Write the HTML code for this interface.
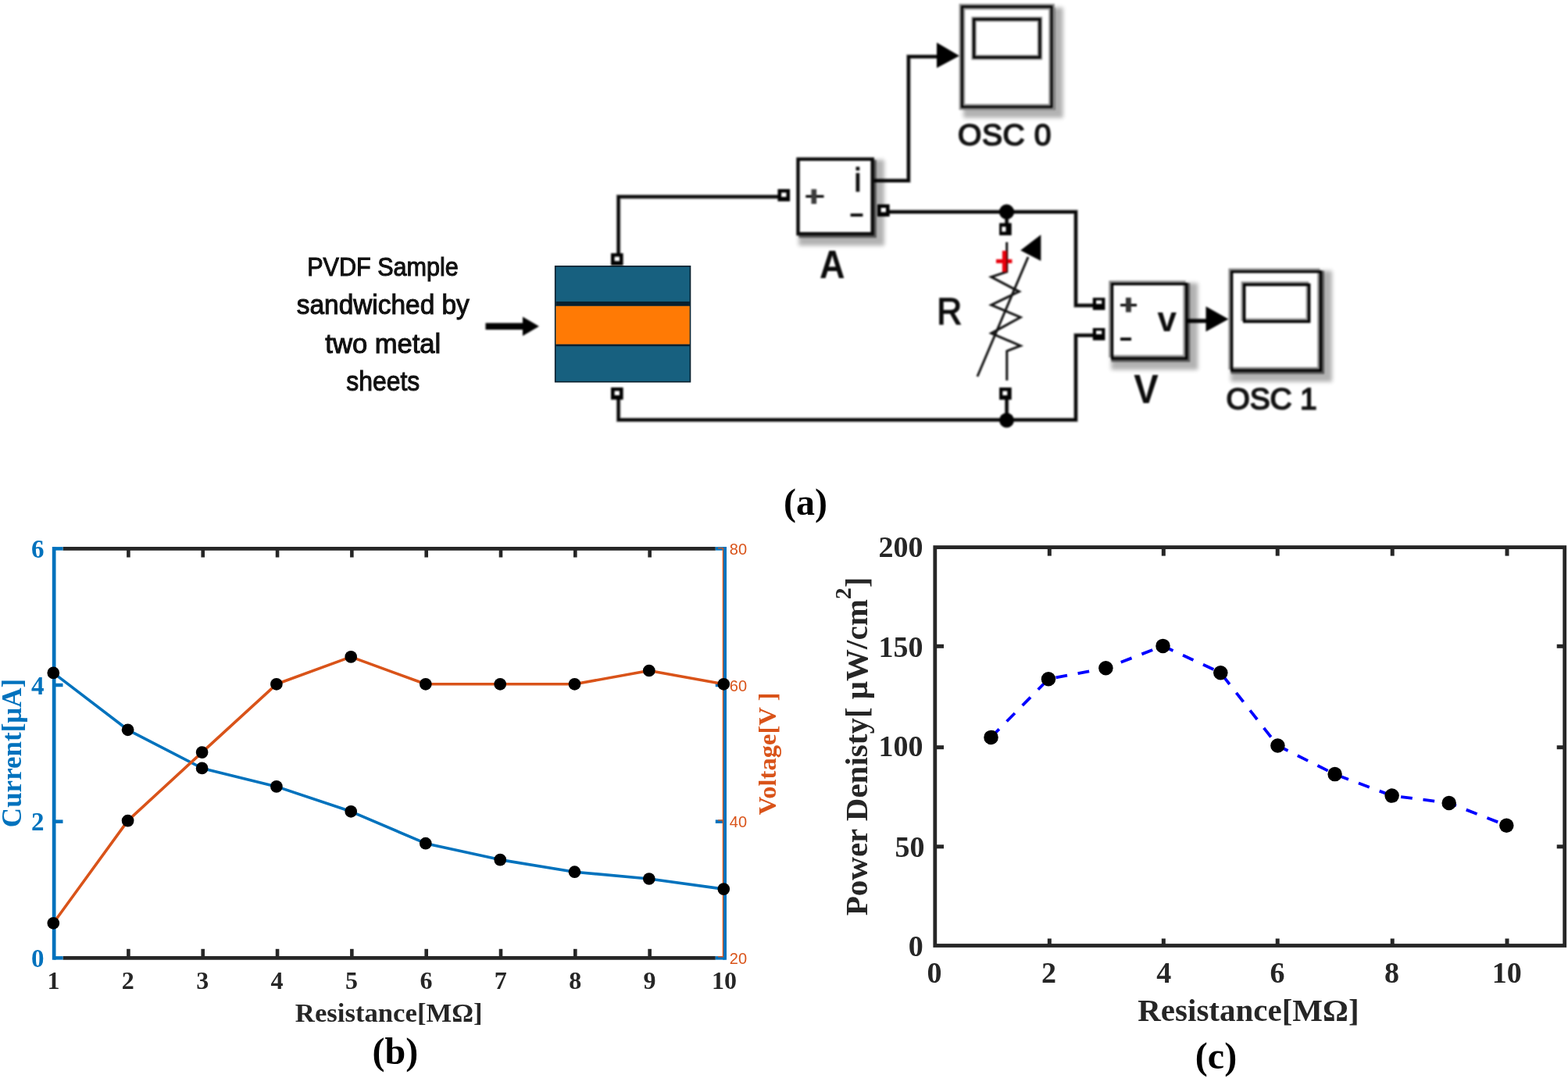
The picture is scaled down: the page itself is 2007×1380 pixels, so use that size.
<!DOCTYPE html>
<html lang="en">
<head>
<meta charset="utf-8">
<title>PVDF energy harvester: circuit, current/voltage and power density versus resistance</title>
<style>
html,body{margin:0;padding:0;background:#fff;}
body{width:2007px;height:1380px;overflow:hidden;}
svg{display:block;}
text{white-space:pre;}
</style>
</head>
<body>
<svg width="2007" height="1380" viewBox="0 0 2007 1380">
<defs>
<filter id="soft" x="-5%" y="-5%" width="110%" height="110%" color-interpolation-filters="sRGB"><feGaussianBlur stdDeviation="0.8"/></filter>
<filter id="soft2" x="-5%" y="-10%" width="110%" height="120%" color-interpolation-filters="sRGB"><feGaussianBlur stdDeviation="0.6"/></filter>
<filter id="soft3" x="-5%" y="-5%" width="110%" height="110%" color-interpolation-filters="sRGB"><feGaussianBlur stdDeviation="0.4"/></filter>
<filter id="shadow" x="-30%" y="-30%" width="160%" height="160%" color-interpolation-filters="sRGB"><feGaussianBlur stdDeviation="2.5"/></filter>
</defs>
<rect x="0" y="0" width="2007" height="1380" fill="#fff"/>
<g id="chart-b">
<line x1="80.5" y1="702.35" x2="915.8" y2="702.35" stroke="#262626" stroke-width="4.7" />
<line x1="80.5" y1="1226.35" x2="915.8" y2="1226.35" stroke="#262626" stroke-width="4.7" />
<line x1="164.4" y1="702.35" x2="164.4" y2="713.5" stroke="#262626" stroke-width="4.6" />
<line x1="164.4" y1="1214.8" x2="164.4" y2="1226.35" stroke="#262626" stroke-width="4.6" />
<line x1="259.72" y1="702.35" x2="259.72" y2="713.5" stroke="#262626" stroke-width="4.6" />
<line x1="259.72" y1="1214.8" x2="259.72" y2="1226.35" stroke="#262626" stroke-width="4.6" />
<line x1="355.04" y1="702.35" x2="355.04" y2="713.5" stroke="#262626" stroke-width="4.6" />
<line x1="355.04" y1="1214.8" x2="355.04" y2="1226.35" stroke="#262626" stroke-width="4.6" />
<line x1="450.36" y1="702.35" x2="450.36" y2="713.5" stroke="#262626" stroke-width="4.6" />
<line x1="450.36" y1="1214.8" x2="450.36" y2="1226.35" stroke="#262626" stroke-width="4.6" />
<line x1="545.68" y1="702.35" x2="545.68" y2="713.5" stroke="#262626" stroke-width="4.6" />
<line x1="545.68" y1="1214.8" x2="545.68" y2="1226.35" stroke="#262626" stroke-width="4.6" />
<line x1="641.0" y1="702.35" x2="641.0" y2="713.5" stroke="#262626" stroke-width="4.6" />
<line x1="641.0" y1="1214.8" x2="641.0" y2="1226.35" stroke="#262626" stroke-width="4.6" />
<line x1="736.32" y1="702.35" x2="736.32" y2="713.5" stroke="#262626" stroke-width="4.6" />
<line x1="736.32" y1="1214.8" x2="736.32" y2="1226.35" stroke="#262626" stroke-width="4.6" />
<line x1="831.64" y1="702.35" x2="831.64" y2="713.5" stroke="#262626" stroke-width="4.6" />
<line x1="831.64" y1="1214.8" x2="831.64" y2="1226.35" stroke="#262626" stroke-width="4.6" />
<line x1="69.15" y1="700.0" x2="69.15" y2="1228.6999999999998" stroke="#0072BD" stroke-width="4.7" />
<line x1="927.65" y1="700.0" x2="927.65" y2="1228.6999999999998" stroke="#0072BD" stroke-width="4.7" />
<line x1="69.15" y1="702.35" x2="80.5" y2="702.35" stroke="#0072BD" stroke-width="4.5" />
<line x1="915.8" y1="702.35" x2="927.65" y2="702.35" stroke="#0072BD" stroke-width="4.5" />
<line x1="69.15" y1="877.0" x2="80.5" y2="877.0" stroke="#0072BD" stroke-width="4.5" />
<line x1="915.8" y1="877.0" x2="927.65" y2="877.0" stroke="#0072BD" stroke-width="4.5" />
<line x1="69.15" y1="1051.7" x2="80.5" y2="1051.7" stroke="#0072BD" stroke-width="4.5" />
<line x1="915.8" y1="1051.7" x2="927.65" y2="1051.7" stroke="#0072BD" stroke-width="4.5" />
<line x1="69.15" y1="1226.35" x2="80.5" y2="1226.35" stroke="#0072BD" stroke-width="4.5" />
<line x1="915.8" y1="1226.35" x2="927.65" y2="1226.35" stroke="#0072BD" stroke-width="4.5" />
<line x1="925.4" y1="701.2" x2="925.4" y2="1225.2" stroke="#D95319" stroke-width="1.3" />
<line x1="919" y1="701.75" x2="926" y2="701.75" stroke="#D95319" stroke-width="1.3" />
<line x1="919" y1="876.4" x2="926" y2="876.4" stroke="#D95319" stroke-width="1.3" />
<line x1="919" y1="1050.1000000000001" x2="926" y2="1050.1000000000001" stroke="#D95319" stroke-width="1.3" />
<line x1="919" y1="1224.75" x2="926" y2="1224.75" stroke="#D95319" stroke-width="1.3" />
<polyline points="68.3,861.4 163.6,934.3 258.6,983.4 353.9,1006.9 449.2,1038.8 544.8,1079.7 640.2,1100.6 735.5,1116.2 830.8,1125.0 926.3,1138.1" fill="none" stroke="#0072BD" stroke-width="3.6" stroke-linejoin="round"/>
<polyline points="68.3,1181.8 163.6,1050.6 258.6,963.1 353.9,875.8 449.2,840.9 544.8,875.8 640.2,875.8 735.5,875.8 830.8,858.5 926.3,875.8" fill="none" stroke="#D95319" stroke-width="3.6" stroke-linejoin="round"/>
<circle cx="68.3" cy="861.4" r="7.85" fill="#000"/>
<circle cx="163.6" cy="934.3" r="7.85" fill="#000"/>
<circle cx="258.6" cy="983.4" r="7.85" fill="#000"/>
<circle cx="353.9" cy="1006.9" r="7.85" fill="#000"/>
<circle cx="449.2" cy="1038.8" r="7.85" fill="#000"/>
<circle cx="544.8" cy="1079.7" r="7.85" fill="#000"/>
<circle cx="640.2" cy="1100.6" r="7.85" fill="#000"/>
<circle cx="735.5" cy="1116.2" r="7.85" fill="#000"/>
<circle cx="830.8" cy="1125.0" r="7.85" fill="#000"/>
<circle cx="926.3" cy="1138.1" r="7.85" fill="#000"/>
<circle cx="68.3" cy="1181.8" r="7.85" fill="#000"/>
<circle cx="163.6" cy="1050.6" r="7.85" fill="#000"/>
<circle cx="258.6" cy="963.1" r="7.85" fill="#000"/>
<circle cx="353.9" cy="875.8" r="7.85" fill="#000"/>
<circle cx="449.2" cy="840.9" r="7.85" fill="#000"/>
<circle cx="544.8" cy="875.8" r="7.85" fill="#000"/>
<circle cx="640.2" cy="875.8" r="7.85" fill="#000"/>
<circle cx="735.5" cy="875.8" r="7.85" fill="#000"/>
<circle cx="830.8" cy="858.5" r="7.85" fill="#000"/>
<circle cx="926.3" cy="875.8" r="7.85" fill="#000"/>
<text x="56.6" y="713.85" font-family='"Liberation Serif", serif' font-size="33" font-weight="bold" fill="#0072BD" text-anchor="end" >6</text>
<text x="56.6" y="888.5" font-family='"Liberation Serif", serif' font-size="33" font-weight="bold" fill="#0072BD" text-anchor="end" >4</text>
<text x="56.6" y="1063.2" font-family='"Liberation Serif", serif' font-size="33" font-weight="bold" fill="#0072BD" text-anchor="end" >2</text>
<text x="56.6" y="1237.85" font-family='"Liberation Serif", serif' font-size="33" font-weight="bold" fill="#0072BD" text-anchor="end" >0</text>
<text x="933.8" y="710.05" font-family='"Liberation Sans", sans-serif' font-size="20" font-weight="normal" fill="#D95319" text-anchor="start" >80</text>
<text x="933.8" y="884.7" font-family='"Liberation Sans", sans-serif' font-size="20" font-weight="normal" fill="#D95319" text-anchor="start" >60</text>
<text x="933.8" y="1059.4" font-family='"Liberation Sans", sans-serif' font-size="20" font-weight="normal" fill="#D95319" text-anchor="start" >40</text>
<text x="933.8" y="1234.05" font-family='"Liberation Sans", sans-serif' font-size="20" font-weight="normal" fill="#D95319" text-anchor="start" >20</text>
<text x="68.4" y="1266.3" font-family='"Liberation Serif", serif' font-size="32" font-weight="bold" fill="#262626" text-anchor="middle" >1</text>
<text x="163.8" y="1266.3" font-family='"Liberation Serif", serif' font-size="32" font-weight="bold" fill="#262626" text-anchor="middle" >2</text>
<text x="259.2" y="1266.3" font-family='"Liberation Serif", serif' font-size="32" font-weight="bold" fill="#262626" text-anchor="middle" >3</text>
<text x="354.6" y="1266.3" font-family='"Liberation Serif", serif' font-size="32" font-weight="bold" fill="#262626" text-anchor="middle" >4</text>
<text x="450.0" y="1266.3" font-family='"Liberation Serif", serif' font-size="32" font-weight="bold" fill="#262626" text-anchor="middle" >5</text>
<text x="545.4" y="1266.3" font-family='"Liberation Serif", serif' font-size="32" font-weight="bold" fill="#262626" text-anchor="middle" >6</text>
<text x="640.8" y="1266.3" font-family='"Liberation Serif", serif' font-size="32" font-weight="bold" fill="#262626" text-anchor="middle" >7</text>
<text x="736.2" y="1266.3" font-family='"Liberation Serif", serif' font-size="32" font-weight="bold" fill="#262626" text-anchor="middle" >8</text>
<text x="831.6" y="1266.3" font-family='"Liberation Serif", serif' font-size="32" font-weight="bold" fill="#262626" text-anchor="middle" >9</text>
<text x="927.0" y="1266.3" font-family='"Liberation Serif", serif' font-size="32" font-weight="bold" fill="#262626" text-anchor="middle" >10</text>
<text transform="translate(27,964) rotate(-90)" font-family='"Liberation Serif", serif' font-size="35" font-weight="bold" fill="#0072BD" text-anchor="middle" >Current[μA]</text>
<text transform="translate(993.4,965) rotate(-90)" font-family='"Liberation Serif", serif' font-size="32.6" font-weight="bold" fill="#D95319" text-anchor="middle" >Voltage[V ]</text>
<text x="497.7" y="1307.6" font-family='"Liberation Serif", serif' font-size="34.7" font-weight="bold" fill="#262626" text-anchor="middle" >Resistance[MΩ]</text>
<text x="505.8" y="1362.3" font-family='"Liberation Serif", serif' font-size="48" font-weight="bold" fill="#000" text-anchor="middle" >(b)</text>
</g>
<g id="chart-c">
<rect x="1196.8" y="700.6" width="805.90" height="509.90" fill="none" stroke="#262626" stroke-width="4.8"/>
<line x1="1196.8" y1="827.3" x2="1208" y2="827.3" stroke="#262626" stroke-width="5.0" />
<line x1="1992.7" y1="827.3" x2="2002.7" y2="827.3" stroke="#262626" stroke-width="5.0" />
<line x1="1196.8" y1="956.7" x2="1208" y2="956.7" stroke="#262626" stroke-width="5.0" />
<line x1="1992.7" y1="956.7" x2="2002.7" y2="956.7" stroke="#262626" stroke-width="5.0" />
<line x1="1196.8" y1="1083.8" x2="1208" y2="1083.8" stroke="#262626" stroke-width="5.0" />
<line x1="1992.7" y1="1083.8" x2="2002.7" y2="1083.8" stroke="#262626" stroke-width="5.0" />
<line x1="1343.3" y1="700.6" x2="1343.3" y2="711.6" stroke="#262626" stroke-width="5.0" />
<line x1="1343.3" y1="1201.5" x2="1343.3" y2="1210.5" stroke="#262626" stroke-width="5.0" />
<line x1="1489.3" y1="700.6" x2="1489.3" y2="711.6" stroke="#262626" stroke-width="5.0" />
<line x1="1489.3" y1="1201.5" x2="1489.3" y2="1210.5" stroke="#262626" stroke-width="5.0" />
<line x1="1635.2" y1="700.6" x2="1635.2" y2="711.6" stroke="#262626" stroke-width="5.0" />
<line x1="1635.2" y1="1201.5" x2="1635.2" y2="1210.5" stroke="#262626" stroke-width="5.0" />
<line x1="1782.2" y1="700.6" x2="1782.2" y2="711.6" stroke="#262626" stroke-width="5.0" />
<line x1="1782.2" y1="1201.5" x2="1782.2" y2="1210.5" stroke="#262626" stroke-width="5.0" />
<line x1="1929.0" y1="700.6" x2="1929.0" y2="711.6" stroke="#262626" stroke-width="5.0" />
<line x1="1929.0" y1="1201.5" x2="1929.0" y2="1210.5" stroke="#262626" stroke-width="5.0" />
<polyline points="1268.5,943.9 1342.0,869.3 1415.4,855.2 1488.5,826.9 1562.3,861.2 1635.4,954.5 1708.6,991.1 1781.6,1018.6 1854.7,1028.0 1928.3,1056.7" fill="none" stroke="#0000FF" stroke-width="3.8" stroke-dasharray="14.8 13.8"/>
<circle cx="1268.5" cy="943.9" r="9.25" fill="#000"/>
<circle cx="1342.0" cy="869.3" r="9.25" fill="#000"/>
<circle cx="1415.4" cy="855.2" r="9.25" fill="#000"/>
<circle cx="1488.5" cy="826.9" r="9.25" fill="#000"/>
<circle cx="1562.3" cy="861.2" r="9.25" fill="#000"/>
<circle cx="1635.4" cy="954.5" r="9.25" fill="#000"/>
<circle cx="1708.6" cy="991.1" r="9.25" fill="#000"/>
<circle cx="1781.6" cy="1018.6" r="9.25" fill="#000"/>
<circle cx="1854.7" cy="1028.0" r="9.25" fill="#000"/>
<circle cx="1928.3" cy="1056.7" r="9.25" fill="#000"/>
<text x="1181.5" y="713.3" font-family='"Liberation Serif", serif' font-size="38" font-weight="bold" fill="#262626" text-anchor="end" >200</text>
<text x="1181.5" y="841.0" font-family='"Liberation Serif", serif' font-size="38" font-weight="bold" fill="#262626" text-anchor="end" >150</text>
<text x="1181.5" y="967.9" font-family='"Liberation Serif", serif' font-size="38" font-weight="bold" fill="#262626" text-anchor="end" >100</text>
<text x="1183.6" y="1097.0" font-family='"Liberation Serif", serif' font-size="38" font-weight="bold" fill="#262626" text-anchor="end" >50</text>
<text x="1181.8" y="1224.1" font-family='"Liberation Serif", serif' font-size="38" font-weight="bold" fill="#262626" text-anchor="end" >0</text>
<text x="1196.0" y="1258.3" font-family='"Liberation Serif", serif' font-size="38" font-weight="bold" fill="#262626" text-anchor="middle" >0</text>
<text x="1342.6" y="1258.3" font-family='"Liberation Serif", serif' font-size="38" font-weight="bold" fill="#262626" text-anchor="middle" >2</text>
<text x="1489.8" y="1258.3" font-family='"Liberation Serif", serif' font-size="38" font-weight="bold" fill="#262626" text-anchor="middle" >4</text>
<text x="1635.0" y="1258.3" font-family='"Liberation Serif", serif' font-size="38" font-weight="bold" fill="#262626" text-anchor="middle" >6</text>
<text x="1781.6" y="1258.3" font-family='"Liberation Serif", serif' font-size="38" font-weight="bold" fill="#262626" text-anchor="middle" >8</text>
<text x="1928.7" y="1258.3" font-family='"Liberation Serif", serif' font-size="38" font-weight="bold" fill="#262626" text-anchor="middle" >10</text>
<text transform="translate(1109.6,955.4) rotate(-90)" font-family='"Liberation Serif", serif' font-size="41" font-weight="bold" fill="#262626" text-anchor="middle">Power Denisty[ μW/cm<tspan font-size="30" dy="-21">2</tspan><tspan dy="21">]</tspan></text>
<text x="1597.9" y="1306.5" font-family='"Liberation Serif", serif' font-size="41" font-weight="bold" fill="#262626" text-anchor="middle" >Resistance[MΩ]</text>
<text x="1556.5" y="1367.5" font-family='"Liberation Serif", serif' font-size="48" font-weight="bold" fill="#000" text-anchor="middle" >(c)</text>
</g>
<g id="circuit">
<text x="1031" y="658.9" font-family='"Liberation Serif", serif' font-size="48" font-weight="bold" fill="#000" text-anchor="middle" >(a)</text>
<g filter="url(#soft2)">
<text x="490" y="353.4" font-family='"Liberation Sans", sans-serif' font-size="33.5" fill="#111" text-anchor="middle" textLength="193.6" stroke="#111" stroke-width="1.1" lengthAdjust="spacingAndGlyphs">PVDF Sample</text>
<text x="490.3" y="402.0" font-family='"Liberation Sans", sans-serif' font-size="35" font-weight="normal" fill="#111" text-anchor="middle" textLength="221" stroke="#111" stroke-width="1.1" lengthAdjust="spacingAndGlyphs">sandwiched by</text>
<text x="490.3" y="451.5" font-family='"Liberation Sans", sans-serif' font-size="35" font-weight="normal" fill="#111" text-anchor="middle" textLength="148" stroke="#111" stroke-width="1.1" lengthAdjust="spacingAndGlyphs">two metal</text>
<text x="490.3" y="500.3" font-family='"Liberation Sans", sans-serif' font-size="35" font-weight="normal" fill="#111" text-anchor="middle" textLength="94" stroke="#111" stroke-width="1.1" lengthAdjust="spacingAndGlyphs">sheets</text>
</g>
<g filter="url(#soft)">
<line x1="621.5" y1="417.8" x2="672" y2="417.8" stroke="#000" stroke-width="8.4" />
<polygon points="669,405.6 690,417.8 669,430" fill="#000"/>
</g>
<g filter="url(#soft3)">
<rect x="710.7" y="340.8" width="172.8" height="148" fill="#17607F" stroke="#08202E" stroke-width="1.6"/>
<rect x="711.5" y="386" width="171.2" height="5.8" fill="#08202E"/>
<rect x="711.5" y="391.8" width="171.2" height="49" fill="#FF7A05"/>
<rect x="711.5" y="440.8" width="171.2" height="2.4" fill="#08202E"/>
</g>
<g filter="url(#soft)">
<polyline points="791.6,326 791.6,251.9 997,251.9" fill="none" stroke="#808080" stroke-width="5.6" stroke-linejoin="miter"/>
<polyline points="791.6,326 791.6,251.9 997,251.9" fill="none" stroke="#000" stroke-width="3.4" stroke-linejoin="miter"/>
<polyline points="791.6,510 791.6,537.5 1377,537.5 1377,429.3 1400,429.3" fill="none" stroke="#808080" stroke-width="5.6" stroke-linejoin="miter"/>
<polyline points="791.6,510 791.6,537.5 1377,537.5 1377,429.3 1400,429.3" fill="none" stroke="#000" stroke-width="3.4" stroke-linejoin="miter"/>
<polyline points="1137,271.2 1377,271.2 1377,391 1400,391" fill="none" stroke="#808080" stroke-width="5.6" stroke-linejoin="miter"/>
<polyline points="1137,271.2 1377,271.2 1377,391 1400,391" fill="none" stroke="#000" stroke-width="3.4" stroke-linejoin="miter"/>
<polyline points="1118,231.2 1162.9,231.2 1162.9,72.5 1202,72.5" fill="none" stroke="#808080" stroke-width="5.6" stroke-linejoin="miter"/>
<polyline points="1118,231.2 1162.9,231.2 1162.9,72.5 1202,72.5" fill="none" stroke="#000" stroke-width="3.4" stroke-linejoin="miter"/>
<polyline points="1288.6,271 1288.6,287" fill="none" stroke="#808080" stroke-width="5.6" stroke-linejoin="miter"/>
<polyline points="1288.6,271 1288.6,287" fill="none" stroke="#000" stroke-width="3.4" stroke-linejoin="miter"/>
<polyline points="1288.6,510 1288.6,538" fill="none" stroke="#808080" stroke-width="5.6" stroke-linejoin="miter"/>
<polyline points="1288.6,510 1288.6,538" fill="none" stroke="#000" stroke-width="3.4" stroke-linejoin="miter"/>
<polyline points="1519,410.8 1546,410.8" fill="none" stroke="#808080" stroke-width="6.2" stroke-linejoin="miter"/>
<polyline points="1519,410.8 1546,410.8" fill="none" stroke="#000" stroke-width="4.2" stroke-linejoin="miter"/>
<circle cx="1288.5" cy="271.2" r="9.6" fill="#000"/>
<circle cx="1288.5" cy="538.0" r="9.4" fill="#000"/>
<polygon points="1199,54.5 1228,71.5 1199,87" fill="#000"/>
<polygon points="1543.5,392.2 1572.4,408.4 1543.5,424.4" fill="#000"/>
<rect x="1233.10" y="9.60" width="127.60" height="141.30" fill="#000" opacity="0.3" filter="url(#shadow)"/>
<rect x="1233.10" y="9.60" width="117.60" height="131.30" fill="#000" opacity="0.5"/>
<rect x="1231.40" y="8.60" width="114.70" height="128.30" fill="#fff" stroke="#909090" stroke-width="7.6"/>
<rect x="1231.40" y="8.60" width="114.70" height="128.30" fill="none" stroke="#000" stroke-width="2.8"/>
<rect x="1246.60" y="24.60" width="84.40" height="48.80" fill="#fff" stroke="#909090" stroke-width="6.4"/>
<rect x="1246.60" y="24.60" width="84.40" height="48.80" fill="none" stroke="#000" stroke-width="3.0"/>
<rect x="1022.30" y="204.50" width="109.60" height="110.00" fill="#000" opacity="0.3" filter="url(#shadow)"/>
<rect x="1022.30" y="204.50" width="99.60" height="100.00" fill="#000" opacity="0.5"/>
<rect x="1021.50" y="203.70" width="95.20" height="95.60" fill="#fff" stroke="#0a0a0a" stroke-width="4.4"/>
<rect x="1422.30" y="362.30" width="111.00" height="111.10" fill="#000" opacity="0.3" filter="url(#shadow)"/>
<rect x="1422.30" y="362.30" width="101.00" height="101.10" fill="#000" opacity="0.5"/>
<rect x="1423.60" y="363.60" width="95.10" height="95.20" fill="#fff" stroke="none"/>
<rect x="1420.90" y="360.90" width="95.10" height="95.20" fill="none" stroke="#8c8c8c" stroke-width="3.2"/>
<rect x="1423.60" y="363.60" width="95.10" height="95.20" fill="none" stroke="#000" stroke-width="3.2"/>
<rect x="1575.40" y="346.60" width="129.70" height="142.20" fill="#000" opacity="0.3" filter="url(#shadow)"/>
<rect x="1575.40" y="346.60" width="119.70" height="132.20" fill="#000" opacity="0.5"/>
<rect x="1576.70" y="347.90" width="113.80" height="126.30" fill="#fff" stroke="none"/>
<rect x="1574.00" y="345.20" width="113.80" height="126.30" fill="none" stroke="#8c8c8c" stroke-width="3.2"/>
<rect x="1576.70" y="347.90" width="113.80" height="126.30" fill="none" stroke="#000" stroke-width="3.2"/>
<rect x="1592.70" y="364.50" width="83.00" height="47.20" fill="#fff" stroke="none"/>
<rect x="1590.30" y="362.10" width="83.00" height="47.20" fill="none" stroke="#8c8c8c" stroke-width="3.4"/>
<rect x="1592.70" y="364.50" width="83.00" height="47.20" fill="none" stroke="#000" stroke-width="3.4"/>
<rect x="782.00" y="324.20" width="15.60" height="15.60" fill="#000"/>
<rect x="786.60" y="328.60" width="6.40" height="5.60" fill="#fff"/>
<rect x="782.00" y="496.00" width="15.60" height="15.60" fill="#000"/>
<rect x="786.60" y="500.40" width="6.40" height="5.60" fill="#fff"/>
<rect x="995.50" y="242.10" width="15.60" height="15.60" fill="#000"/>
<rect x="1000.10" y="246.50" width="6.40" height="5.60" fill="#fff"/>
<rect x="1123.00" y="261.60" width="15.60" height="15.60" fill="#000"/>
<rect x="1127.60" y="266.00" width="6.40" height="5.60" fill="#fff"/>
<rect x="1279.10" y="285.60" width="15.60" height="15.60" fill="#000"/>
<rect x="1282.30" y="290.20" width="5.20" height="6.40" fill="#fff"/>
<rect x="1279.10" y="496.10" width="15.60" height="15.60" fill="#000"/>
<rect x="1283.30" y="500.50" width="6.00" height="5.60" fill="#fff"/>
<rect x="1398.80" y="381.20" width="15.60" height="15.60" fill="#000"/>
<rect x="1403.00" y="384.50" width="7.20" height="4.60" fill="#fff"/>
<rect x="1398.80" y="420.00" width="15.60" height="15.60" fill="#000"/>
<rect x="1403.00" y="423.30" width="7.20" height="4.60" fill="#fff"/>
<line x1="1031.3" y1="251.4" x2="1054.5" y2="251.4" stroke="#000" stroke-width="3.2" />
<line x1="1041.8" y1="242.2" x2="1041.8" y2="261.0" stroke="#3c3c3c" stroke-width="6.6" />
<line x1="1088.6" y1="275.3" x2="1104.4" y2="275.3" stroke="#000" stroke-width="3.8" />
<line x1="1434.0" y1="390.6" x2="1455.0" y2="390.6" stroke="#000" stroke-width="3.2" />
<line x1="1444.4" y1="381.0" x2="1444.4" y2="399.6" stroke="#333" stroke-width="6.8" />
<line x1="1434.0" y1="434.1" x2="1448.0" y2="434.1" stroke="#000" stroke-width="3.8" />
<polyline points="1288.7,310 1288.7,348 1268.8,354.6 1304.5,373.3 1268.8,390.3 1306.2,406.2 1268.8,426.6 1306.2,442.6 1288.8,449.4 1288.8,487" fill="none" stroke="#111" stroke-width="3.0" stroke-linejoin="miter"/>
<line x1="1316" y1="329" x2="1251" y2="482" stroke="#111" stroke-width="3.0" />
<polygon points="1332.3,300.5 1306.2,320.6 1332.3,334" fill="#000"/>
<line x1="1275" y1="334.4" x2="1295.4" y2="334.4" stroke="#E8000C" stroke-width="5" />
<line x1="1285.6" y1="321" x2="1285.6" y2="348.2" stroke="#E8000C" stroke-width="5.4" />
<line x1="1288.9" y1="321" x2="1288.9" y2="348.2" stroke="#5a0000" stroke-width="1.6" />
</g>
<g filter="url(#soft)">
<text x="1097.8" y="244.8" font-family='"Liberation Sans", sans-serif' font-size="42" font-weight="normal" fill="#0a0a0a" text-anchor="middle" stroke="#0a0a0a" stroke-width="1.1">i</text>
<text x="1493.8" y="423.6" font-family='"Liberation Sans", sans-serif' font-size="44" font-weight="bold" fill="#0a0a0a" text-anchor="middle" >v</text>
<text x="1285.7" y="185.8" font-family='"Liberation Sans", sans-serif' font-size="39" font-weight="normal" fill="#111" text-anchor="middle" textLength="119.5" lengthAdjust="spacing" stroke="#111" stroke-width="1.7">OSC 0</text>
<text x="1627.6" y="523.8" font-family='"Liberation Sans", sans-serif' font-size="39" font-weight="normal" fill="#111" text-anchor="middle" textLength="116" lengthAdjust="spacing" stroke="#111" stroke-width="1.7">OSC 1</text>
<text x="1065.2" y="355.8" font-family='"Liberation Sans", sans-serif' font-size="49.6" font-weight="bold" fill="#0a0a0a" text-anchor="middle" textLength="32.5" lengthAdjust="spacingAndGlyphs">A</text>
<text x="1467" y="515.8" font-family='"Liberation Sans", sans-serif' font-size="51" font-weight="bold" fill="#0a0a0a" text-anchor="middle" textLength="31.5" lengthAdjust="spacingAndGlyphs">V</text>
<text x="1215.2" y="415.2" font-family='"Liberation Sans", sans-serif' font-size="48.5" font-weight="normal" fill="#0a0a0a" text-anchor="middle" textLength="32" lengthAdjust="spacingAndGlyphs" stroke="#0a0a0a" stroke-width="1.5">R</text>
</g>
</g>
</svg>
</body>
</html>
